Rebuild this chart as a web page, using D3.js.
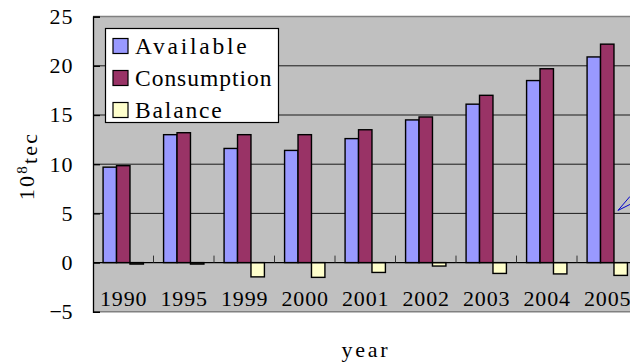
<!DOCTYPE html>
<html>
<head>
<meta charset="utf-8">
<script src="https://cdn.jsdelivr.net/npm/d3@7/dist/d3.min.js"></script>
<style>
  html, body { margin: 0; padding: 0; background: #fff; }
  svg { display: block; }
  text { font-family: "Liberation Serif", "DejaVu Serif", serif; fill: #000; }
</style>
</head>
<body>
<svg id="chart" width="630" height="362"></svg>
<script>
// Energy supply and demand by year (unit: 10^8 tce)
const years = ["1990", "1995", "1999", "2000", "2001", "2002", "2003", "2004", "2005"];
const available   = [9.7, 13.0, 11.6, 11.4, 12.6, 14.5, 16.1, 18.5, 20.9];
const consumption = [9.85, 13.2, 13.0, 13.0, 13.5, 14.8, 17.0, 19.7, 22.2];
const balance     = [-0.15, -0.15, -1.45, -1.5, -1.0, -0.35, -1.1, -1.15, -1.3];
const seriesNames = ["Available", "Consumption", "Balance"];
const seriesColors = ["#9999FF", "#993366", "#FFFFCC"];
const yTicks = [-5, 0, 5, 10, 15, 20, 25];

const seriesValues = [available, consumption, balance];

const svg = d3.select("#chart");

const plotLeft = 93, plotTop = 16.6, plotBottom = 311.8, step = 60.5;

// half-width character advance used by the labels (fixed-pitch look)
const advance = (s, w) => s.length * w;

const x = d3.scaleBand()
  .domain(years)
  .range([plotLeft, plotLeft + step * years.length])
  .paddingInner(0).paddingOuter(0);

const xs = d3.scaleBand()
  .domain(seriesNames)
  .range([0, x.bandwidth()])
  .paddingInner(0).paddingOuter(0.75);

const y = d3.scaleLinear().domain([-5, 25]).range([plotBottom, plotTop]);

const plotRight = x.range()[1];

// plot background
svg.append("rect")
  .attr("x", plotLeft).attr("y", plotTop)
  .attr("width", plotRight - plotLeft).attr("height", plotBottom - plotTop)
  .attr("fill", "#C0C0C0");

// gridlines
svg.append("g").selectAll("line")
  .data(yTicks.filter(t => t !== -5 && t !== 25 && t !== 0))
  .join("line")
  .attr("x1", plotLeft).attr("x2", plotRight)
  .attr("y1", d => y(d)).attr("y2", d => y(d))
  .attr("stroke", "#1a1a1a").attr("stroke-width", 1);

// top / bottom plot border
svg.append("g").selectAll("line")
  .data([25, -5])
  .join("line")
  .attr("x1", plotLeft).attr("x2", plotRight)
  .attr("y1", d => y(d)).attr("y2", d => y(d))
  .attr("stroke", "#808080").attr("stroke-width", 1.5);

// y axis with inward ticks
const yAxis = d3.axisRight(y).tickValues(yTicks).tickSize(7).tickFormat("");
const yAxisG = svg.append("g").attr("transform", `translate(${plotLeft},0)`).call(yAxis);
yAxisG.select(".domain").attr("stroke", "#000").attr("stroke-width", 1.3);
yAxisG.selectAll(".tick line").attr("stroke", "#000").attr("stroke-width", 1.3);

// y tick labels
const fmtTick = d => d < 0 ? "\u2212" + Math.abs(d) : String(d);
svg.append("g").selectAll("text")
  .data(yTicks)
  .join("text")
  .attr("x", 72.5).attr("y", d => y(d))
  .attr("dy", "0.34em")
  .attr("text-anchor", "end")
  .attr("textLength", d => advance(fmtTick(d), 11.5))
  .attr("lengthAdjust", "spacing")
  .style("font-size", "22px")
  .text(fmtTick);

// bars
const groups = svg.append("g").selectAll("g")
  .data(years)
  .join("g")
  .attr("transform", d => `translate(${x(d)},0)`);

groups.selectAll("rect")
  .data((d, i) => seriesNames.map((s, k) => ({ s, k, v: seriesValues[k][i] })))
  .join("rect")
  .attr("x", d => xs(d.s))
  .attr("width", xs.bandwidth())
  .attr("y", d => y(Math.max(0, d.v)))
  .attr("height", d => Math.abs(y(d.v) - y(0)))
  .attr("fill", d => seriesColors[d.k])
  .attr("stroke", "#000").attr("stroke-width", 1.4);

// category axis on the zero line
svg.append("line")
  .attr("x1", plotLeft).attr("x2", plotRight)
  .attr("y1", y(0)).attr("y2", y(0))
  .attr("stroke", "#000").attr("stroke-width", 1.3);

svg.append("g").selectAll("line")
  .data(years.slice(1))
  .join("line")
  .attr("x1", d => x(d)).attr("x2", d => x(d))
  .attr("y1", y(0)).attr("y2", y(0) - 7)
  .attr("stroke", "#333").attr("stroke-width", 1);

// year labels
svg.append("g").selectAll("text")
  .data(years)
  .join("text")
  .attr("x", d => x(d) + x.bandwidth() / 2)
  .attr("y", 305.5)
  .attr("text-anchor", "middle")
  .attr("textLength", d => advance(d, 11.6))
  .attr("lengthAdjust", "spacing")
  .style("font-size", "22px")
  .text(d => d);

// callout arrow near 2005
const tipX = x("2005") + xs("Consumption") + xs.bandwidth() + 4;
const tipY = y(5.3);
svg.append("path")
  .attr("d", `M${tipX + 12},${tipY - 14} L${tipX},${tipY} L${tipX + 12},${tipY - 6}`)
  .attr("fill", "none").attr("stroke", "#0000CC").attr("stroke-width", 1);

// legend
const legend = svg.append("g");
legend.append("rect")
  .attr("x", 105.5).attr("y", 28.5).attr("width", 173).attr("height", 94)
  .attr("fill", "#fff").attr("stroke", "#000").attr("stroke-width", 1.2);

const rowY = d3.scalePoint().domain(seriesNames).range([46, 110]);
legend.selectAll("rect.sw")
  .data(seriesNames)
  .join("rect")
  .attr("class", "sw")
  .attr("x", 113).attr("y", d => rowY(d) - 7.5)
  .attr("width", 15).attr("height", 15)
  .attr("fill", (d, i) => seriesColors[i])
  .attr("stroke", "#000").attr("stroke-width", 1.2);

legend.selectAll("text")
  .data(seriesNames)
  .join("text")
  .attr("x", 135).attr("y", d => rowY(d))
  .attr("dy", "0.34em")
  .attr("textLength", d => advance(d, 12.4))
  .attr("lengthAdjust", "spacing")
  .style("font-size", "23.5px")
  .text(d => d);

// axis titles
svg.append("text")
  .attr("x", 364.5).attr("y", 357)
  .attr("text-anchor", "middle")
  .attr("textLength", advance("year", 11.5))
  .attr("lengthAdjust", "spacing")
  .style("font-size", "22px")
  .text("year");

const yTitle = svg.append("text")
  .attr("transform", "translate(34,166) rotate(-90)")
  .attr("text-anchor", "middle")
  .style("font-size", "22px")
  .style("letter-spacing", "2.2px");
yTitle.append("tspan").text("10");
yTitle.append("tspan").attr("dy", "-0.45em").style("font-size", "15px").text("8");
yTitle.append("tspan").attr("dy", "0.45em").text("tec");
</script>
</body>
</html>
